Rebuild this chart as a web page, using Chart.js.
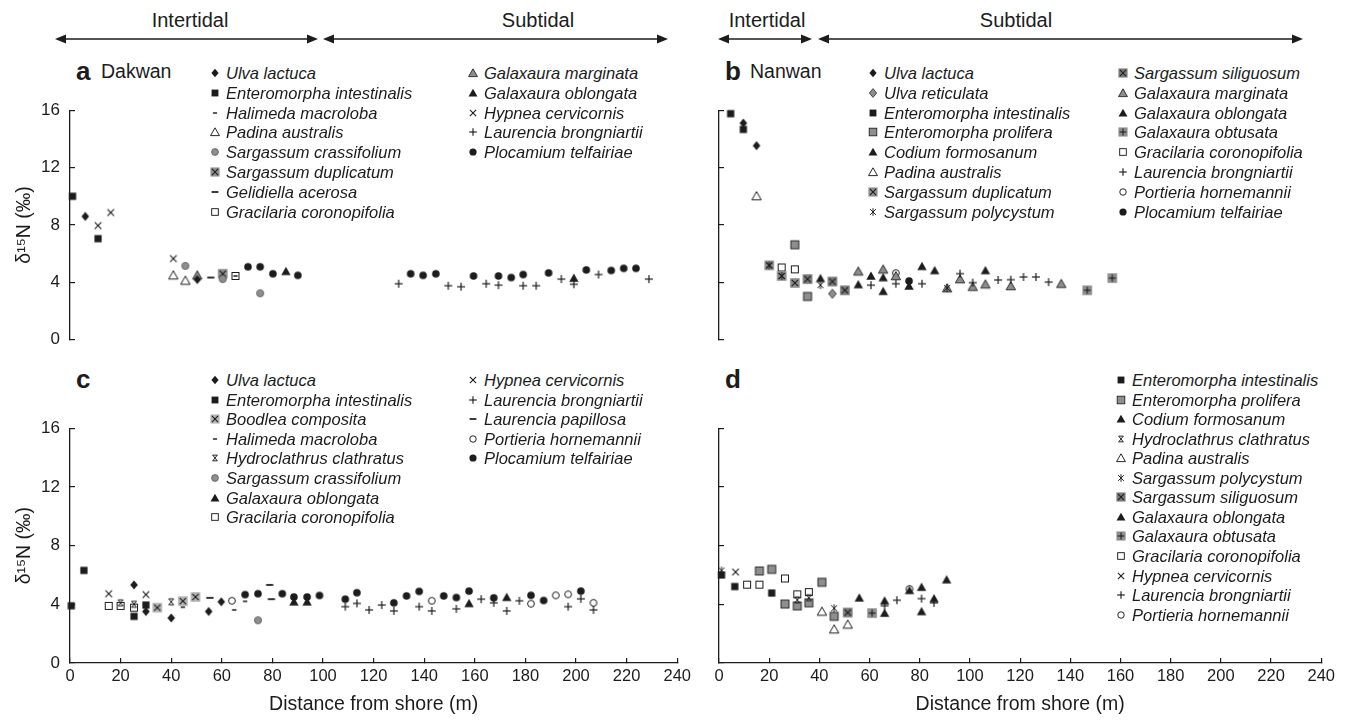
<!DOCTYPE html>
<html><head><meta charset="utf-8">
<script src="https://cdn.jsdelivr.net/npm/chart.js@4.4.1/dist/chart.umd.min.js"></script>
<style>
body{margin:0;background:#fff;}
#page{position:relative;width:1347px;height:723px;overflow:hidden;font-family:"Liberation Sans",Arial,Helvetica,sans-serif;color:#1c1c1c;}
.abs{position:absolute;white-space:nowrap;line-height:1;}
.zone{font-size:20px;transform:translate(-50%,-50%);}
.letter{font-weight:bold;font-size:26px;transform:translateY(-55%);}
.site{font-size:19.5px;transform:translateY(-50%);}
.leg{font-style:italic;font-size:16.5px;transform:translateY(-50%);}
.mk{position:absolute;transform:translate(-50%,-50%);}
canvas.chart{position:absolute;}
svg{position:absolute;left:0;top:0;}
</style></head>
<body><div id="page"></div>
<script>
// ---------------- DATA ----------------
const X_TICKS = [0,20,40,60,80,100,120,140,160,180,200,220,240];
const Y_TICKS = [0,4,8,12,16];

// Panel a — Dakwan
const dakUlvaLactuca = [[6,8.6],[50,4.2]];
const dakEnteroIntest = [[1,10.0],[11,7.05]];
const dakHalimeda = [[65,4.45]];
const dakPadina = [[40.6,4.5],[45.3,4.13]];
const dakSargCrass = [[45.3,5.15],[60,4.23],[74.7,3.24]];
const dakSargDupl = [[60,4.6]];
const dakGelidiella = [[55.3,4.34]];
const dakGracilaria = [[65,4.45]];
const dakGalaxMarg = [[50,4.5]];
const dakGalaxOblong = [[84.8,4.77],[197.9,4.3]];
const dakHypnea = [[11,7.96],[16,8.87],[40.6,5.66]];
const dakLaurBrong = [[129.1,3.91],[148.6,3.77],[153.6,3.7],[163.5,3.91],[168.3,3.81],[178,3.77],[183.1,3.77],[193,4.23],[197.9,3.87],[207.6,4.55],[227.4,4.23]];
const dakPlocamium = [[69.9,5.09],[74.7,5.09],[79.7,4.6],[89.5,4.49],[133.8,4.6],[138.7,4.49],[143.7,4.6],[158.5,4.45],[168.3,4.45],[173.3,4.34],[178,4.55],[188,4.66],[202.8,4.87],[212.6,4.83],[217.5,4.98],[222.3,4.98]];

// Panel b — Nanwan
const nanUlvaLactuca = [[9.6,15.1],[14.8,13.53]];
const nanUlvaReticulata = [[44.7,3.21]];
const nanEnteroIntest = [[4.6,15.76],[9.6,14.66]];
const nanEnteroProlif = [[29.9,6.62],[34.9,3.02]];
const nanCodium = [[40,4.28],[54.9,3.85],[59.9,4.45],[64.7,4.34],[64.7,3.38]];
const nanPadina = [[14.8,10.02]];
const nanSargDupl = [[19.8,5.19],[24.7,4.45],[29.9,3.96]];
const nanSargPolyc = [[19.8,5.19],[24.7,4.45],[40,3.81],[89.9,3.6]];
const nanSargSiliq = [[34.9,4.23],[44.7,4.06],[49.6,3.45]];
const nanGalaxMarg = [[54.9,4.77],[64.7,4.91],[69.7,4.45],[89.9,3.6],[95,4.23],[100,3.7],[105,3.87],[115,3.75],[134.9,3.91]];
const nanGalaxOblong = [[74.9,3.75],[80,5.12],[85,4.83],[105,4.83]];
const nanGalaxObtus = [[145.1,3.45],[155,4.3]];
const nanGracilaria = [[24.7,5.04],[29.9,4.91]];
const nanLaurBrong = [[59.9,3.81],[69.7,3.91],[80,3.91],[95,4.61],[100,3.98],[110,4.17],[115,4.19],[120,4.38],[124.9,4.38],[129.9,4.02]];
const nanPortieria = [[69.7,4.65]];
const nanPlocamium = [[74.9,4.1]];

// Panel c
const cUlvaLactuca = [[25.3,5.32],[30,3.51],[40,3.07],[54.8,3.51],[59.8,4.17]];
const cEnteroIntest = [[0.5,3.9],[5.5,6.31],[25.3,3.18],[30,3.95]];
const cBoodlea = [[34.5,3.77],[44.6,4.22],[49.6,4.5]];
const cHalimeda = [[44.6,3.8],[64.9,3.62],[69.2,4.2]];
const cHydroclathrus = [[20,4.1],[25.3,4.0],[40,4.17]];
const cSargCrass = [[74.3,2.91]];
const cGalaxOblong = [[88.5,4.17],[93.7,4.17],[157.7,4.06],[172.6,4.48]];
const cGracilaria = [[15.3,3.89],[20,3.89],[25.3,3.77]];
const cHypnea = [[15.3,4.72],[30,4.66]];
const cLaurBrong = [[108.8,3.84],[113.4,4.06],[118.2,3.62],[123.2,3.95],[128,3.55],[138,3.84],[143,3.55],[152.7,3.69],[162.5,4.35],[167.5,4.1],[172.6,3.55],[177.6,4.24],[196.9,3.84],[201.9,4.37],[206.9,3.62]];
const cLaurPapil = [[55.3,4.44],[78.9,5.32],[79.6,4.35]];
const cPortieria = [[64,4.24],[143,4.24],[182.2,4.04],[192,4.61],[196.9,4.68],[206.9,4.1]];
const cPlocamium = [[69.2,4.66],[74.3,4.72],[83.9,4.72],[88.5,4.5],[93.7,4.5],[98.6,4.6],[108.8,4.35],[113.4,4.79],[128,4.1],[133,4.57],[138,4.88],[147.7,4.57],[152.7,4.46],[157.7,4.9],[167.5,4.44],[182.2,4.61],[187.2,4.26],[201.9,4.9]];

// Panel d
const dEnteroIntest = [[1,6.0],[6.3,5.21],[21,4.77]];
const dEnteroProlif = [[16.1,6.27],[21,6.38],[26.3,4.02],[31.2,3.89],[35.8,4.1],[41,5.5],[45.9,3.18]];
const dCodium = [[55.9,4.44],[66,3.4],[66,4.24]];
const dHydroclathrus = [[31.2,4.3],[35.8,4.45]];
const dPadina = [[41,3.51],[45.9,2.3],[51.3,2.63]];
const dSargPolyc = [[1,6.3],[45.9,3.73]];
const dSargSiliq = [[51.3,3.44]];
const dGalaxOblong = [[75.9,4.95],[80.7,5.17],[80.7,3.51],[85.7,4.39],[90.7,5.68]];
const dGalaxObtus = [[61,3.4]];
const dGracilaria = [[11.2,5.34],[16.1,5.34],[26.3,5.76],[31.2,4.68],[35.8,4.83]];
const dHypnea = [[6.6,6.2]];
const dLaurBrong = [[66,3.9],[70.9,4.28],[80.7,4.39],[85.7,4.1]];
const dPortieria = [[75.9,5.05]];

// ---------------- GLYPHS ----------------
const K='#1c1c1c', G='#8e8e8e', GD='#7a7a7a', GL='#b4b4b4';
const FF='"Liberation Sans", Arial, Helvetica, sans-serif';
function makeGlyph(type, s){
  let n=Math.ceil(13*s); if(n%2) n++;
  const c=document.createElement('canvas'); c.width=c.height=n;
  const g=c.getContext('2d'); g.translate(n/2,n/2); g.scale(s,s);
  g.strokeStyle=K; g.fillStyle=K;
  const poly=(pts)=>{g.beginPath();g.moveTo(pts[0][0],pts[0][1]);for(let i=1;i<pts.length;i++)g.lineTo(pts[i][0],pts[i][1]);g.closePath();};
  const line=(x1,y1,x2,y2)=>{g.beginPath();g.moveTo(x1,y1);g.lineTo(x2,y2);g.stroke();};
  const circ=(r)=>{g.beginPath();g.arc(0,0,r,0,Math.PI*2);};
  const DIA=[[0,-4.6],[3.8,0],[0,4.6],[-3.8,0]];
  const TRI=[[0,-4.4],[4.7,3.8],[-4.7,3.8]];
  const sq=(col,cross)=>{g.fillStyle=col;g.fillRect(-4.8,-4.8,9.6,9.6);g.lineWidth=1.1;
    if(cross==='x'){line(-3.2,-3.2,3.2,3.2);line(3.2,-3.2,-3.2,3.2);} else {line(-3.6,0,3.6,0);line(0,-3.6,0,3.6);} };
  switch(type){
    case 'diamond': poly(DIA); g.fill(); break;
    case 'diamondGray': poly(DIA); g.fillStyle=G; g.fill(); g.lineWidth=0.8; g.stroke(); break;
    case 'square': g.fillRect(-3.6,-3.6,7.2,7.2); break;
    case 'squareGray': g.fillStyle=G; g.fillRect(-4,-4,8,8); g.lineWidth=0.9; g.strokeRect(-4,-4,8,8); break;
    case 'squareOpen': g.fillStyle='#fff'; g.fillRect(-3.5,-3.5,7,7); g.lineWidth=1; g.strokeRect(-3.5,-3.5,7,7); break;
    case 'tri': poly(TRI); g.fill(); break;
    case 'triGray': poly(TRI); g.fillStyle=G; g.fill(); g.lineWidth=0.9; g.stroke(); break;
    case 'triOpen': poly(TRI); g.fillStyle='#fff'; g.fill(); g.lineWidth=1; g.stroke(); break;
    case 'circle': circ(3.8); g.fill(); break;
    case 'circleGray': circ(3.6); g.fillStyle=G; g.fill(); g.strokeStyle='#5a5a5a'; g.lineWidth=0.8; g.stroke(); break;
    case 'circleOpen': circ(3.4); g.fillStyle='#fff'; g.fill(); g.lineWidth=1; g.stroke(); break;
    case 'x': g.lineWidth=1.1; line(-3.3,-3.3,3.3,3.3); line(3.3,-3.3,-3.3,3.3); break;
    case 'plus': g.lineWidth=1.2; line(-4,0,4,0); line(0,-4,0,4); break;
    case 'star': g.lineWidth=1; line(-3,-3,3,3); line(3,-3,-3,3); line(0,-4,0,4); break;
    case 'hydro': g.lineWidth=1; line(-2.4,-3,2.4,3); line(2.4,-3,-2.4,3); line(-2.6,-3,2.6,-3); line(-2.6,3,2.6,3); break;
    case 'dash': g.lineWidth=1.8; line(-3.6,0,3.6,0); break;
    case 'dashShort': g.lineWidth=1.5; line(-2.2,0,2.2,0); break;
    case 'sqX': sq(G,'x'); break;
    case 'sqXDark': sq(GD,'x'); break;
    case 'sqXLight': sq(GL,'x'); break;
    case 'sqPlus': sq(G,'+'); break;
  }
  return c;
}
const GLYPH_TYPES=['diamond','diamondGray','square','squareGray','squareOpen','tri','triGray','triOpen','circle','circleGray','circleOpen','x','plus','star','hydro','dash','dashShort','sqX','sqXDark','sqXLight','sqPlus'];
const GLYPH={}; GLYPH_TYPES.forEach(t=>GLYPH[t]=makeGlyph(t,1));
const OVER=new Set(['x','plus','star','hydro','dash','dashShort']);

// ---------------- PAGE ----------------
const page=document.getElementById('page');
function txt(cls,left,top,text){const d=document.createElement('div');d.className='abs '+cls;d.style.left=left+'px';d.style.top=top+'px';d.textContent=text;page.appendChild(d);return d;}

function panel(o){
  const cv=document.createElement('canvas'); cv.className='chart';
  cv.width=o.cw; cv.height=o.ch; cv.style.left=o.cl+'px'; cv.style.top=o.ct+'px';
  page.appendChild(cv);
  const Wy=o.L-o.cl, pt=o.T-o.ct, pr=o.cl+o.cw-o.R, bottomSpace=o.ct+o.ch-o.B;
  new Chart(cv,{type:'scatter',
    data:{datasets:o.series.map(s=>({label:s.name,data:s.data.map(p=>({x:p[0],y:p[1]})),pointStyle:GLYPH[s.glyph],pointRadius:5,order:OVER.has(s.glyph)?0:1,clip:false,showLine:false}))},
    options:{responsive:false,animation:false,events:[],devicePixelRatio:1,
      layout:{padding:{top:pt,right:pr,left:0,bottom:o.xAxis?0:bottomSpace}},
      plugins:{legend:{display:false},tooltip:{enabled:false}},
      scales:{
        x:{type:'linear',display:o.xAxis,min:0,max:240,
          afterBuildTicks(s){s.ticks=X_TICKS.map(v=>({value:v}));},
          afterFit(s){s.height=bottomSpace;},
          border:{display:true,color:K,width:1.3},
          grid:{drawOnChartArea:false,drawTicks:true,tickLength:-5,color:K,lineWidth:1.2},
          ticks:{padding:9,font:{size:16.5,family:FF},color:K,maxRotation:0,autoSkip:false,callback:v=>String(v)},
          title:{display:true,text:'Distance from shore (m)',font:{size:19.5,family:FF},color:K,padding:{top:0,bottom:4}}},
        y:{type:'linear',min:0,max:16,
          afterBuildTicks(s){s.ticks=Y_TICKS.map(v=>({value:v}));},
          afterFit(s){s.width=Wy;},
          border:{display:true,color:K,width:1.3},
          grid:{drawOnChartArea:false,drawTicks:true,tickLength:-5,color:K,lineWidth:1.2},
          ticks:{padding:15,font:{size:17,family:FF},color:K,autoSkip:false,callback:v=>o.yLabels?String(v):''},
          title:{display:o.yLabels,text:'δ¹⁵N (‰)',font:{size:19.5,family:FF},color:K,padding:{top:13,bottom:0}}}
      }}});
}
function legend(mx,tx,y0,dy,items){
  items.forEach((it,i)=>{
    const y=y0+i*dy;
    const g=makeGlyph(it[1],0.95); g.className='mk'; g.style.left=mx+'px'; g.style.top=y+'px'; page.appendChild(g);
    txt('leg',tx,y,it[0]);
  });
}

// header zones + arrows
const svgNS='http://www.w3.org/2000/svg';
const svg=document.createElementNS(svgNS,'svg'); svg.setAttribute('width','1347'); svg.setAttribute('height','723');
function arrow(x1,x2,y){
  const l=document.createElementNS(svgNS,'line'); l.setAttribute('x1',x1+6); l.setAttribute('x2',x2-6); l.setAttribute('y1',y); l.setAttribute('y2',y); l.setAttribute('stroke',K); l.setAttribute('stroke-width','1.5'); svg.appendChild(l);
  [[x1,1],[x2,-1]].forEach(([x,d])=>{const p=document.createElementNS(svgNS,'polygon');p.setAttribute('points',`${x},${y} ${x+d*11},${y-4.5} ${x+d*11},${y+4.5}`);p.setAttribute('fill',K);svg.appendChild(p);});
}
arrow(55,318,39); arrow(323,668,39); arrow(718,812,39); arrow(818,1303,39);
page.appendChild(svg);
txt('zone',190,20,'Intertidal'); txt('zone',538,20,'Subtidal');
txt('zone',767,20,'Intertidal'); txt('zone',1016,20,'Subtidal');
txt('letter',76,72,'a'); txt('site',101,72,'Dakwan');
txt('letter',725,72,'b'); txt('site',750,72,'Nanwan');
txt('letter',76,380,'c'); txt('letter',725,380,'d');

// panels
panel({cl:0,ct:85,cw:700,ch:280,L:70,R:681,T:103,B:353,xAxis:false,yLabels:true,series:[
  {name:'Ulva lactuca',data:dakUlvaLactuca,glyph:'diamond'},
  {name:'Enteromorpha intestinalis',data:dakEnteroIntest,glyph:'square'},
  {name:'Halimeda macroloba',data:dakHalimeda,glyph:'dashShort'},
  {name:'Padina australis',data:dakPadina,glyph:'triOpen'},
  {name:'Sargassum crassifolium',data:dakSargCrass,glyph:'circleGray'},
  {name:'Sargassum duplicatum',data:dakSargDupl,glyph:'sqX'},
  {name:'Gelidiella acerosa',data:dakGelidiella,glyph:'dash'},
  {name:'Gracilaria coronopifolia',data:dakGracilaria,glyph:'squareOpen'},
  {name:'Galaxaura marginata',data:dakGalaxMarg,glyph:'triGray'},
  {name:'Galaxaura oblongata',data:dakGalaxOblong,glyph:'tri'},
  {name:'Hypnea cervicornis',data:dakHypnea,glyph:'x'},
  {name:'Laurencia brongniartii',data:dakLaurBrong,glyph:'plus'},
  {name:'Plocamium telfairiae',data:dakPlocamium,glyph:'circle'}]});
panel({cl:689,ct:85,cw:655,ch:280,L:719,R:1328,T:103,B:353,xAxis:false,yLabels:false,series:[
  {name:'Ulva lactuca',data:nanUlvaLactuca,glyph:'diamond'},
  {name:'Ulva reticulata',data:nanUlvaReticulata,glyph:'diamondGray'},
  {name:'Enteromorpha intestinalis',data:nanEnteroIntest,glyph:'square'},
  {name:'Enteromorpha prolifera',data:nanEnteroProlif,glyph:'squareGray'},
  {name:'Codium formosanum',data:nanCodium,glyph:'tri'},
  {name:'Padina australis',data:nanPadina,glyph:'triOpen'},
  {name:'Sargassum duplicatum',data:nanSargDupl,glyph:'sqX'},
  {name:'Sargassum polycystum',data:nanSargPolyc,glyph:'star'},
  {name:'Sargassum siliguosum',data:nanSargSiliq,glyph:'sqXDark'},
  {name:'Galaxaura marginata',data:nanGalaxMarg,glyph:'triGray'},
  {name:'Galaxaura oblongata',data:nanGalaxOblong,glyph:'tri'},
  {name:'Galaxaura obtusata',data:nanGalaxObtus,glyph:'sqPlus'},
  {name:'Gracilaria coronopifolia',data:nanGracilaria,glyph:'squareOpen'},
  {name:'Laurencia brongniartii',data:nanLaurBrong,glyph:'plus'},
  {name:'Portieria hornemannii',data:nanPortieria,glyph:'circleOpen'},
  {name:'Plocamium telfairiae',data:nanPlocamium,glyph:'circle'}]});
panel({cl:0,ct:403,cw:700,ch:317,L:70,R:681,T:421,B:663,xAxis:true,yLabels:true,series:[
  {name:'Ulva lactuca',data:cUlvaLactuca,glyph:'diamond'},
  {name:'Enteromorpha intestinalis',data:cEnteroIntest,glyph:'square'},
  {name:'Boodlea composita',data:cBoodlea,glyph:'sqXLight'},
  {name:'Halimeda macroloba',data:cHalimeda,glyph:'dashShort'},
  {name:'Hydroclathrus clathratus',data:cHydroclathrus,glyph:'hydro'},
  {name:'Sargassum crassifolium',data:cSargCrass,glyph:'circleGray'},
  {name:'Galaxaura oblongata',data:cGalaxOblong,glyph:'tri'},
  {name:'Gracilaria coronopifolia',data:cGracilaria,glyph:'squareOpen'},
  {name:'Hypnea cervicornis',data:cHypnea,glyph:'x'},
  {name:'Laurencia brongniartii',data:cLaurBrong,glyph:'plus'},
  {name:'Laurencia papillosa',data:cLaurPapil,glyph:'dash'},
  {name:'Portieria hornemannii',data:cPortieria,glyph:'circleOpen'},
  {name:'Plocamium telfairiae',data:cPlocamium,glyph:'circle'}]});
panel({cl:689,ct:403,cw:655,ch:317,L:719,R:1328,T:421,B:663,xAxis:true,yLabels:false,series:[
  {name:'Enteromorpha intestinalis',data:dEnteroIntest,glyph:'square'},
  {name:'Enteromorpha prolifera',data:dEnteroProlif,glyph:'squareGray'},
  {name:'Codium formosanum',data:dCodium,glyph:'tri'},
  {name:'Hydroclathrus clathratus',data:dHydroclathrus,glyph:'hydro'},
  {name:'Padina australis',data:dPadina,glyph:'triOpen'},
  {name:'Sargassum polycystum',data:dSargPolyc,glyph:'star'},
  {name:'Sargassum siliguosum',data:dSargSiliq,glyph:'sqXDark'},
  {name:'Galaxaura oblongata',data:dGalaxOblong,glyph:'tri'},
  {name:'Galaxaura obtusata',data:dGalaxObtus,glyph:'sqPlus'},
  {name:'Gracilaria coronopifolia',data:dGracilaria,glyph:'squareOpen'},
  {name:'Hypnea cervicornis',data:dHypnea,glyph:'x'},
  {name:'Laurencia brongniartii',data:dLaurBrong,glyph:'plus'},
  {name:'Portieria hornemannii',data:dPortieria,glyph:'circleOpen'}]});

// legends
legend(215,226,73,19.8,[['Ulva lactuca','diamond'],['Enteromorpha intestinalis','square'],['Halimeda macroloba','dashShort'],['Padina australis','triOpen'],['Sargassum crassifolium','circleGray'],['Sargassum duplicatum','sqX'],['Gelidiella acerosa','dash'],['Gracilaria coronopifolia','squareOpen']]);
legend(473,484,73,19.8,[['Galaxaura marginata','triGray'],['Galaxaura oblongata','tri'],['Hypnea cervicornis','x'],['Laurencia brongniartii','plus'],['Plocamium telfairiae','circle']]);
legend(873,884,73,19.8,[['Ulva lactuca','diamond'],['Ulva reticulata','diamondGray'],['Enteromorpha intestinalis','square'],['Enteromorpha prolifera','squareGray'],['Codium formosanum','tri'],['Padina australis','triOpen'],['Sargassum duplicatum','sqX'],['Sargassum polycystum','star']]);
legend(1123,1134,73,19.8,[['Sargassum siliguosum','sqXDark'],['Galaxaura marginata','triGray'],['Galaxaura oblongata','tri'],['Galaxaura obtusata','sqPlus'],['Gracilaria coronopifolia','squareOpen'],['Laurencia brongniartii','plus'],['Portieria hornemannii','circleOpen'],['Plocamium telfairiae','circle']]);
legend(215,226,380,19.6,[['Ulva lactuca','diamond'],['Enteromorpha intestinalis','square'],['Boodlea composita','sqXLight'],['Halimeda macroloba','dashShort'],['Hydroclathrus clathratus','hydro'],['Sargassum crassifolium','circleGray'],['Galaxaura oblongata','tri'],['Gracilaria coronopifolia','squareOpen']]);
legend(473,484,380,19.6,[['Hypnea cervicornis','x'],['Laurencia brongniartii','plus'],['Laurencia papillosa','dash'],['Portieria hornemannii','circleOpen'],['Plocamium telfairiae','circle']]);
legend(1121,1132,380,19.55,[['Enteromorpha intestinalis','square'],['Enteromorpha prolifera','squareGray'],['Codium formosanum','tri'],['Hydroclathrus clathratus','hydro'],['Padina australis','triOpen'],['Sargassum polycystum','star'],['Sargassum siliguosum','sqXDark'],['Galaxaura oblongata','tri'],['Galaxaura obtusata','sqPlus'],['Gracilaria coronopifolia','squareOpen'],['Hypnea cervicornis','x'],['Laurencia brongniartii','plus'],['Portieria hornemannii','circleOpen']]);
</script>
</body></html>
